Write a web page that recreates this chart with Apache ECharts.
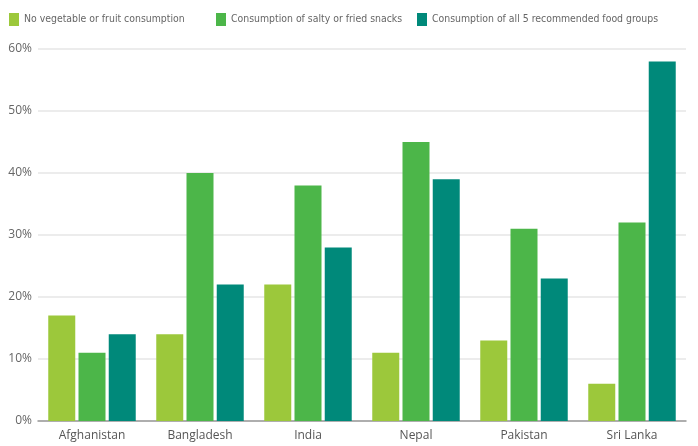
<!DOCTYPE html>
<html><head><meta charset="utf-8">
<script src="https://cdn.jsdelivr.net/npm/echarts@6/dist/echarts.min.js"></script>
<style>html,body{margin:0;padding:0;background:#fff}#c{width:698px;height:446px}</style>
</head><body><div id="c"></div>
<script>
const categories = ['Afghanistan','Bangladesh','India','Nepal','Pakistan','Sri Lanka'];
const seriesNames = ['No vegetable or fruit consumption','Consumption of salty or fried snacks','Consumption of all 5 recommended food groups'];
const noVegFruit = [17,14,22,11,13,6];
const saltySnacks = [11,40,38,45,31,32];
const all5Groups = [14,22,28,39,23,58];
const yTicks = [0,10,20,30,40,50,60];
const colors = ['#9cc83b','#4cb649','#00897a'];
const font = '"DejaVu Sans Condensed", "Liberation Sans Narrow", "Roboto Condensed", sans-serif';
const axisFont = '"Open Sans", sans-serif';
const legendLefts = [9, 216, 417];
const chart = echarts.init(document.getElementById('c'));
chart.setOption({
  animation:false,
  color: colors,
  legend: seriesNames.map((n,i)=>({
    top:13, left:legendLefts[i], padding:0, itemWidth:10, itemHeight:13, itemGap:5,
    icon:'rect',
    textStyle:{color:'#666', fontSize:10.4, fontFamily:font},
    data:[n]
  })),
  grid:{left:38, right:12, top:49, bottom:25},
  xAxis:{
    type:'category', data:categories,
    axisLine:{lineStyle:{color:'#999', width:1.5}},
    axisTick:{show:false},
    axisLabel:{color:'#555', fontSize:12, margin:9, fontFamily:axisFont}
  },
  yAxis:{
    type:'value', min:yTicks[0], max:yTicks[yTicks.length-1], interval:10,
    axisLabel:{formatter:'{value}%', color:'#666', fontSize:12, margin:6, fontFamily:axisFont},
    splitLine:{lineStyle:{color:'#e6e6e6', width:1.5}},
    axisLine:{show:false}, axisTick:{show:false}
  },
  series:[
    {name:seriesNames[0], type:'bar', data:noVegFruit, barGap:'12%', barCategoryGap:'19%'},
    {name:seriesNames[1], type:'bar', data:saltySnacks, barGap:'12%', barCategoryGap:'19%'},
    {name:seriesNames[2], type:'bar', data:all5Groups, barGap:'12%', barCategoryGap:'19%'}
  ]
});
</script></body></html>
